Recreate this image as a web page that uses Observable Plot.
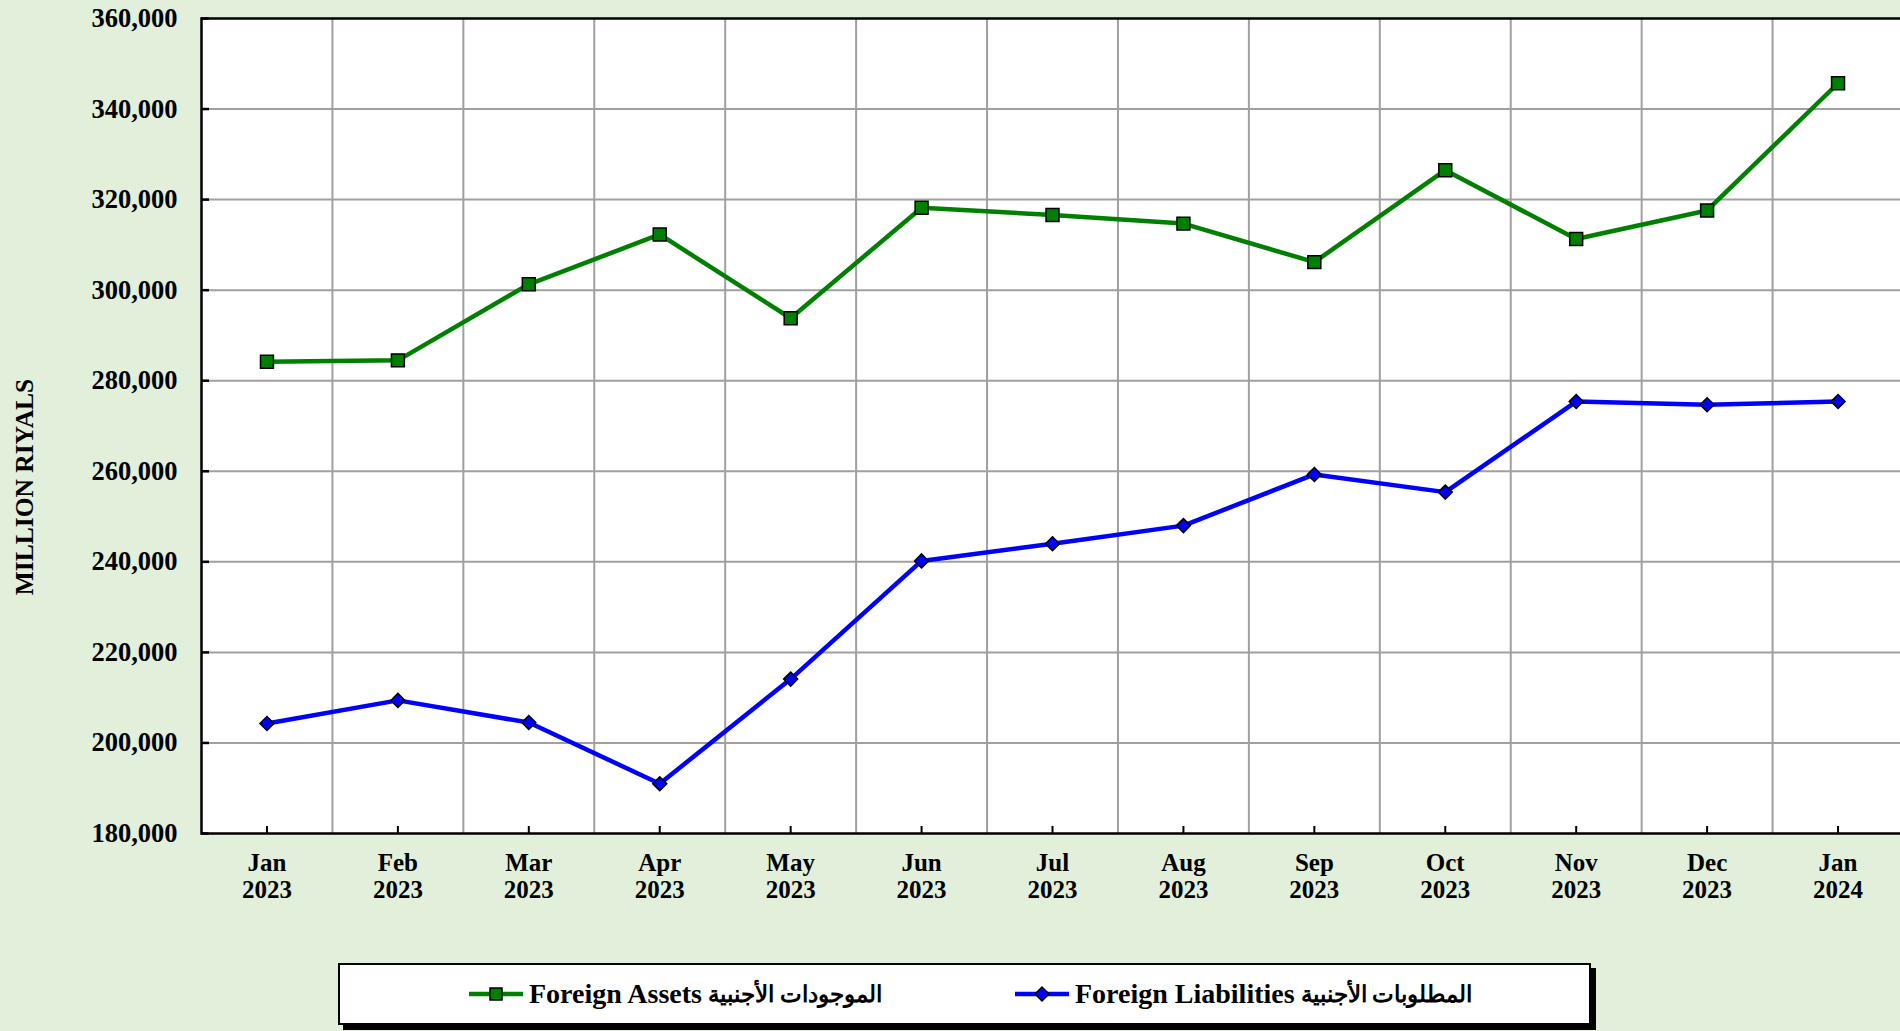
<!DOCTYPE html>
<html>
<head>
<meta charset="utf-8">
<script src="https://cdn.jsdelivr.net/npm/d3@7"></script>
<script src="https://cdn.jsdelivr.net/npm/@observablehq/plot@0.6"></script>
<style>
html, body { margin: 0; padding: 0; background: #E2EFDA; width: 1900px; height: 1031px; overflow: hidden; }
#wrap { position: relative; width: 1900px; height: 1031px; font-family: "Liberation Serif", "Times New Roman", "DejaVu Serif", serif; font-weight: bold; color: black; }
#chart svg { display: block; max-width: none; }
#ytitle { position: absolute; left: 25px; top: 487px; transform: translate(-50%, -50%) rotate(-90deg); font-size: 25.5px; white-space: nowrap; }
#legend { position: absolute; left: 338px; top: 963px; width: 1249px; height: 58px; background: white; border: 2px solid black; box-shadow: 5px 5px 0 black; }
.item { position: absolute; top: 0; height: 58px; display: flex; align-items: center; font-size: 28px; white-space: nowrap; }
.item svg { display: block; margin-right: 6px; }
.item .ar { font-size: 22.5px; margin-left: 6px; }
</style>
</head>
<body>
<div id="wrap">
  <div id="chart"></div>
  <div id="ytitle">MILLION RIYALS</div>
  <div id="legend"></div>
</div>
<script>
// ---- data ----
const months = ["Jan\n2023", "Feb\n2023", "Mar\n2023", "Apr\n2023", "May\n2023", "Jun\n2023", "Jul\n2023", "Aug\n2023", "Sep\n2023", "Oct\n2023", "Nov\n2023", "Dec\n2023", "Jan\n2024"];
const foreignAssets = [284200, 284500, 301300, 312300, 293800, 318200, 316600, 314700, 306200, 326500, 311300, 317600, 345700];
const foreignLiabilities = [204300, 209400, 204500, 191000, 214100, 240200, 244000, 248000, 259300, 255400, 275400, 274700, 275400];
const yTicks = [180000, 200000, 220000, 240000, 260000, 280000, 300000, 320000, 340000, 360000];
const seriesNamesEn = ["Foreign Assets", "Foreign Liabilities"];
const seriesNamesAr = ["الموجودات الأجنبية", "المطلوبات الأجنبية"];
const seriesColors = ["#008000", "#0000FF"];

const idx = months.map((d, i) => i);
const assets = idx.map(i => ({i, v: foreignAssets[i]}));
const liabilities = idx.map(i => ({i, v: foreignLiabilities[i]}));

const font = '"Liberation Serif", "Times New Roman", serif';

const chart = Plot.plot({
  width: 1900,
  height: 950,
  marginTop: 18,
  marginLeft: 201,
  marginRight: -3,
  marginBottom: 117,
  style: {background: "transparent", fontFamily: font, fontWeight: "bold", fontSize: "26px", color: "black"},
  x: {type: "linear", domain: [-0.5, months.length - 0.5]},
  y: {domain: [yTicks[0], yTicks[yTicks.length - 1]]},
  marks: [
    Plot.frame({fill: "white"}),
    Plot.gridY(yTicks.slice(1, -1), {stroke: "#A0A0A0", strokeOpacity: 1, strokeWidth: 2}),
    Plot.ruleX(idx.slice(0, -1), {x: i => i + 0.5, stroke: "#A0A0A0", strokeWidth: 2}),
    Plot.line(assets, {x: "i", y: "v", stroke: seriesColors[0], strokeWidth: 4.5}),
    Plot.dot(assets, {x: "i", y: "v", symbol: "square", r: 7.3, fill: seriesColors[0], stroke: "black", strokeWidth: 1.5}),
    Plot.line(liabilities, {x: "i", y: "v", stroke: seriesColors[1], strokeWidth: 4.5}),
    Plot.dot(liabilities, {x: "i", y: "v", symbol: "diamond2", r: 6.3, fill: seriesColors[1], stroke: "black", strokeWidth: 1.5}),
    Plot.axisY(yTicks, {tickSize: -8, tickPadding: 32, strokeWidth: 2.5, tickFormat: d3.format(","), fontSize: 26.5, label: null}),
    Plot.axisX(idx, {tickSize: -7, tickPadding: 26, strokeWidth: 2, tickFormat: i => months[i], fontSize: 25, lineHeight: 1.06, label: null}),
    Plot.frame({stroke: "black", strokeWidth: 2.5})
  ]
});
document.getElementById("chart").appendChild(chart);

// ---- legend ----
const legend = document.getElementById("legend");
const itemLeft = [129, 675];
const symbols = [
  '<rect x="21" y="4" width="12" height="12" fill="#008000" stroke="black" stroke-width="1.5"/>',
  '<path d="M27,3 L34,10 L27,17 L20,10 Z" fill="#0000FF" stroke="black" stroke-width="1.5"/>'
];
seriesNamesEn.forEach((name, k) => {
  const el = document.createElement("div");
  el.className = "item";
  el.style.left = itemLeft[k] + "px";
  el.innerHTML = `<svg width="54" height="20"><line x1="0" y1="10" x2="54" y2="10" stroke="${seriesColors[k]}" stroke-width="4.5"/>${symbols[k]}</svg><span>${name}</span><span class="ar" dir="rtl">${seriesNamesAr[k]}</span>`;
  legend.appendChild(el);
});
</script>
</body>
</html>
